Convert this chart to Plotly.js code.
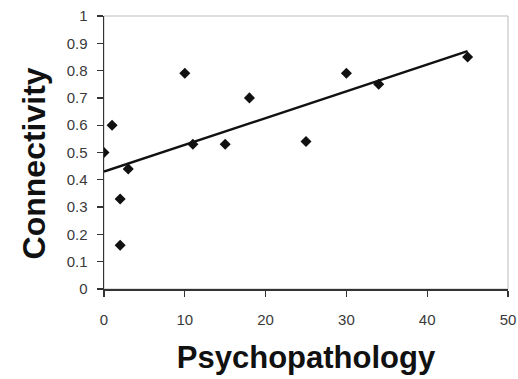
<!DOCTYPE html>
<html>
<head>
<meta charset="utf-8">
<script src="https://cdn.plot.ly/plotly-3.0.1.min.js"></script>
<style>html,body{margin:0;padding:0;background:#fff;}#chart{width:518px;height:379px;}</style>
</head>
<body>
<div id="chart"></div>
<script>
const psychopathology = [0, 1, 2, 2, 3, 10, 11, 15, 18, 25, 30, 34, 45];
const connectivity = [0.50, 0.60, 0.33, 0.16, 0.44, 0.79, 0.53, 0.53, 0.70, 0.54, 0.79, 0.75, 0.85];
const xTicks = [0, 10, 20, 30, 40, 50];
const yTicks = [0, 0.1, 0.2, 0.3, 0.4, 0.5, 0.6, 0.7, 0.8, 0.9, 1];
const yTickLabels = ['0', '0.1', '0.2', '0.3', '0.4', '0.5', '0.6', '0.7', '0.8', '0.9', '1'];
const xTitle = 'Psychopathology';
const yTitle = 'Connectivity';

// least-squares trend line through the data
const n = psychopathology.length;
const mx = psychopathology.reduce((a, b) => a + b, 0) / n;
const my = connectivity.reduce((a, b) => a + b, 0) / n;
let sxy = 0, sxx = 0;
for (let i = 0; i < n; i++) {
  sxy += (psychopathology[i] - mx) * (connectivity[i] - my);
  sxx += (psychopathology[i] - mx) ** 2;
}
const slope = sxy / sxx;
const intercept = my - slope * mx;
const xMin = Math.min(...psychopathology), xMax = Math.max(...psychopathology);
const trendX = [xMin, xMax];
const trendY = trendX.map(x => intercept + slope * x);

const data = [
  {x: trendX, y: trendY, mode: 'lines', type: 'scatter',
   line: {color: '#111', width: 2.5}, hoverinfo: 'skip'},
  {x: psychopathology, y: connectivity, mode: 'markers', type: 'scatter',
   marker: {symbol: 'diamond', size: 8.5, color: '#111'}}
];

const tickFont = {family: 'Liberation Sans, Arial, sans-serif', size: 15, color: '#3a3a3a'};

const layout = {
  width: 518, height: 379,
  margin: {l: 104, r: 10, t: 16, b: 90},
  paper_bgcolor: '#fff', plot_bgcolor: '#fff',
  showlegend: false,
  xaxis: {
    range: [0, 50], tickvals: xTicks, ticktext: xTicks.map(String),
    showgrid: false, zeroline: false, showline: true, linecolor: '#333', linewidth: 1.5,
    ticks: 'outside', ticklen: 6, tickcolor: '#333', tickwidth: 1.3, tickfont: tickFont,
    ticklabelstandoff: 10,
    title: {text: '<b>' + xTitle + '</b>', standoff: 20,
            font: {family: 'Liberation Sans, Arial, sans-serif', size: 31, color: '#111'}}
  },
  yaxis: {
    range: [0, 1], tickvals: yTicks, ticktext: yTickLabels,
    showgrid: false, zeroline: false, showline: true, linecolor: '#333', linewidth: 1.5,
    ticks: 'outside', ticklen: 6, tickcolor: '#333', tickwidth: 1.3, tickfont: tickFont,
    ticklabelstandoff: 6
  },
  annotations: [{
    text: '<b>' + yTitle + '</b>', textangle: -90, showarrow: false,
    xref: 'paper', yref: 'paper', x: 0, y: 0.46, xanchor: 'center', yanchor: 'middle',
    xshift: -70,
    font: {family: 'Liberation Sans, Arial, sans-serif', size: 32, color: '#111'}
  }],
  shapes: [{type: 'rect', xref: 'paper', yref: 'paper', x0: 0, x1: 1, y0: 0, y1: 1,
            line: {color: '#bbb', width: 1}, layer: 'below'}]
};

Plotly.newPlot('chart', data, layout, {displayModeBar: false, staticPlot: true});
</script>
</body>
</html>
